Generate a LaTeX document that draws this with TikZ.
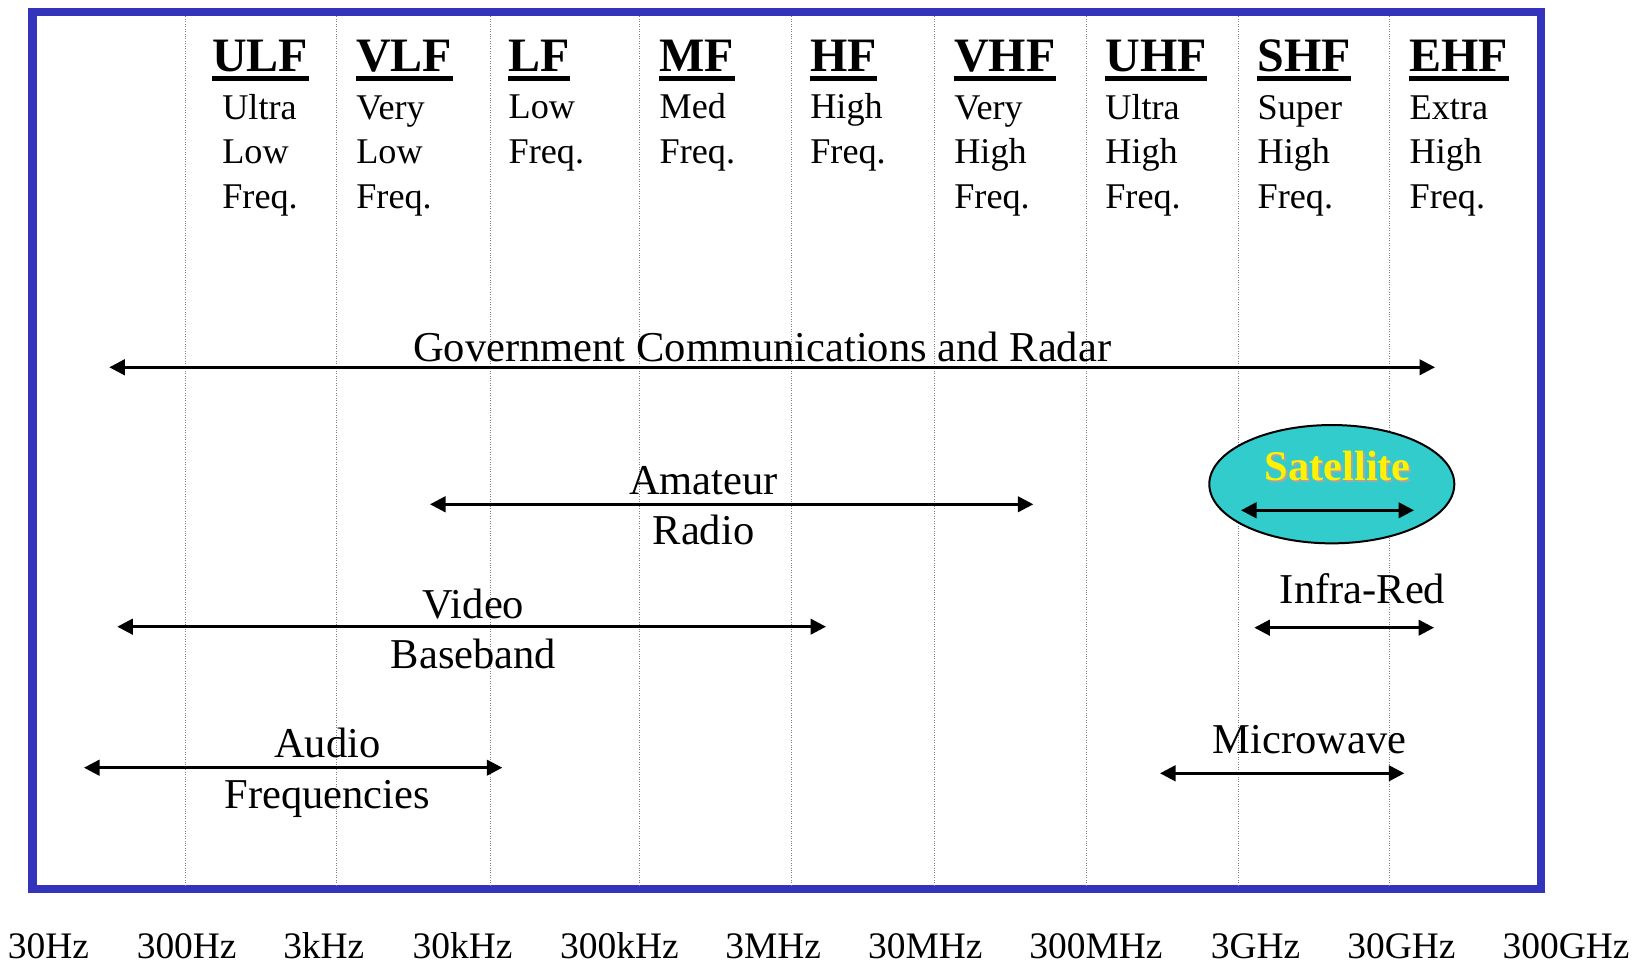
\documentclass[tikz,border=0pt]{standalone}
\usepackage{fontspec}
\setmainfont{Liberation Serif}
\usetikzlibrary{arrows.meta,shapes.geometric}

\definecolor{frameblue}{RGB}{51,51,187}
\definecolor{satcyan}{RGB}{51,204,204}

\tikzset{
  band/.style={anchor=base west, inner sep=0pt, font=\fontsize{27.3}{32}\selectfont\bfseries},
  desc/.style={anchor=base west, inner sep=0pt, align=left, font=\fontsize{20.6}{25.4}\selectfont},
  lbl/.style={anchor=base, inner sep=0pt, align=center, font=\fontsize{24.2}{28.9}\selectfont},
  freq/.style={anchor=base, inner sep=0pt, font=\fontsize{21.3}{25}\selectfont},
  spanarrow/.style={line width=1.6pt, {Triangle[length=0.31cm,width=0.31cm]}-{Triangle[length=0.31cm,width=0.31cm]}},
}

\begin{document}
\begin{tikzpicture}
    \useasboundingbox (0,0) rectangle (32.7,19.28);

    % frame
    \draw[line width=0.16cm, frameblue, fill=white] (0.65,1.49) rectangle (30.82,19.034);

    % band separators
    \foreach \x in {3.70,6.726,9.814,12.786,15.826,18.68,21.732,24.76,27.786}{
      \draw[gray, densely dotted, line width=0.4pt] (\x,1.57) -- (\x,18.96);
    }

    % bands (desc is placed by the baseline of its last line)
    \foreach \x\dx\dy\n\d in {
        4.24/4.44/15.114/ULF/{Ultra\\Low\\Freq.},
        7.12/7.12/15.114/VLF/{Very\\Low\\Freq.},
        10.166/10.166/16.014/LF/{Low\\Freq.},
        13.186/13.186/16.014/MF/{Med\\Freq.},
        16.2/16.2/16.014/HF/{High\\Freq.},
        19.08/19.08/15.114/VHF/{Very\\High\\Freq.},
        22.1/22.1/15.114/UHF/{Ultra\\High\\Freq.},
        25.146/25.146/15.114/SHF/{Super\\High\\Freq.},
        28.186/28.186/15.114/EHF/{Extra\\High\\Freq.}}{
      \node[band] (\n) at (\x,17.846) {\n};
      \draw[line width=0.1cm] ([yshift=-0.136cm]\n.base west) -- ([yshift=-0.136cm]\n.base east);
      \node[desc] (\n-d) at (\dx,\dy) {\d};
    }

    % frequencies
    \foreach \x\f in {0.97/30Hz, 3.734/300Hz, 6.476/3kHz, 9.25/30kHz, 12.388/300kHz,
        15.464/3MHz, 18.508/30MHz, 21.92/300MHz, 25.11/3GHz, 28.03/30GHz, 31.32/300GHz}{
      \node[freq] (f\f) at (\x,0.1) {\f};
    }

    % services
    \coordinate (gov-l) at (2.186,11.934);
    \coordinate (gov-r) at (28.70,11.934);
    \node[lbl] (gov) at (15.244,12.046) {Government Communications and Radar};
    \draw[spanarrow] (gov-l) -- (gov-r);

    \coordinate (ham-l) at (8.6,9.194);
    \coordinate (ham-r) at (20.666,9.194);
    \node[lbl] (ham) at (14.07,8.38) {Amateur\\Radio};
    \draw[spanarrow] (ham-l) -- (ham-r);

    \coordinate (vid-l) at (2.346,6.746);
    \coordinate (vid-r) at (16.52,6.746);
    \node[lbl] (vid) at (9.47,5.9) {Video\\Baseband};
    \draw[spanarrow] (vid-l) -- (vid-r);

    \coordinate (aud-l) at (1.68,3.926);
    \coordinate (aud-r) at (10.046,3.926);
    \node[lbl] (aud) at (6.546,3.114) {Audio\\Frequencies};
    \draw[spanarrow] (aud-l) -- (aud-r);

    \node[ellipse, draw, line width=0.04cm, fill=satcyan, minimum width=4.9cm, minimum height=2.366cm] (sat) at (26.636,9.596) {};
    \node[lbl, font=\fontsize{24.1}{29}\selectfont\bfseries, gray!70] (sat-s) at (26.79,9.626) {Satellite};
    \node[lbl, font=\fontsize{24.1}{29}\selectfont\bfseries, yellow] (sat-t) at (26.756,9.66) {Satellite};
    \coordinate (sat-l) at (24.82,9.074);
    \coordinate (sat-r) at (28.28,9.074);
    \draw[spanarrow] (sat-l) -- (sat-r);

    \coordinate (ir-l) at (25.086,6.726);
    \coordinate (ir-r) at (28.68,6.726);
    \node[lbl] (ir) at (27.25,7.2) {Infra-Red};
    \draw[spanarrow] (ir-l) -- (ir-r);

    \coordinate (mw-l) at (23.2,3.814);
    \coordinate (mw-r) at (28.086,3.814);
    \node[lbl] (mw) at (26.194,4.2) {Microwave};
    \draw[spanarrow] (mw-l) -- (mw-r);
\end{tikzpicture}
\end{document}
